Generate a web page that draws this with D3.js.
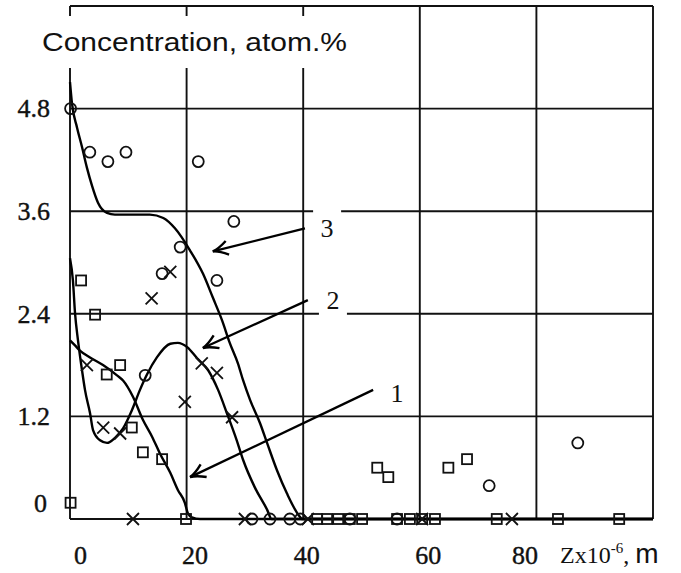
<!DOCTYPE html>
<html lang="en">
<head>
    <meta charset="UTF-8">
    <title>Concentration profiles</title>
    <script src="https://d3js.org/d3.v7.min.js"></script>
    <style>
        body { margin: 0; padding: 0; background: #fff; }
        .serif { font-family: "Liberation Serif", "Times New Roman", serif; }
        .sans { font-family: "Liberation Sans", Arial, sans-serif; }
        .grid line { stroke: #111; stroke-width: 1.9px; }
        .curve { fill: none; stroke: #000; stroke-width: 2.4px; }
        .mark { fill: none; stroke: #111; stroke-width: 1.8px; }
        .tick text { stroke: #111; stroke-width: 0.4px; }
    </style>
</head>
<body>
    <div id="chart"></div>

    <script>
        // axis ticks
        const xTicks = [0, 20, 40, 60, 80];
        const yTicks = [0, 1.2, 2.4, 3.6, 4.8];
        const xGrid = [0, 20, 40, 60, 80, 100];
        const yGrid = [1.2, 2.4, 3.6, 4.8, 6];

        // calculated curves [z, concentration]
        const curve1 = [[0, 2.09], [0.86, 2.03], [1.7, 1.97], [3.43, 1.89], [5.66, 1.8], [8.06, 1.68],
            [9.1, 1.62], [10.8, 1.43], [12.5, 1.16], [14.1, 0.96], [15.4, 0.77], [17.2, 0.54],
            [18.5, 0.34], [19.7, 0.19], [20.2, 0.07], [20.9, 0.02], [22.3, 0], [100, 0]];
        const curve2 = [[0, 3.05], [0.5, 2.79], [0.86, 2.41], [1.37, 2.09], [2.06, 1.74], [2.57, 1.51],
            [3.43, 1.24], [3.95, 1.04], [5.15, 0.92], [6.35, 0.89], [7.72, 0.95], [9.1, 1.06],
            [10.6, 1.27], [12.0, 1.51], [13.2, 1.69], [14.9, 1.89], [17.2, 2.05], [18.5, 2.06],
            [20.1, 2.01], [21.8, 1.88], [23.7, 1.74], [25.4, 1.51], [26.9, 1.24], [28.6, 0.92],
            [29.7, 0.69], [31.7, 0.37], [33.8, 0.11], [34.6, 0], [100, 0]];
        const curve3 = [[0, 5.11], [0.34, 4.86], [1.2, 4.58], [2.06, 4.35], [2.9, 4.11], [3.77, 3.9],
            [4.8, 3.7], [6.35, 3.58], [7.7, 3.56], [13.7, 3.56], [16.0, 3.52], [18.0, 3.4],
            [20.6, 3.14], [22.8, 2.87], [24.5, 2.59], [26.1, 2.32], [27.4, 2.06], [28.8, 1.82],
            [29.7, 1.62], [30.9, 1.39], [32.6, 1.12], [33.8, 0.89], [35.5, 0.57], [37.2, 0.3],
            [39.5, 0.02], [39.8, 0], [100, 0]];

        // measured points
        const circlePts = [[0.1, 4.8], [3.4, 4.29], [6.5, 4.18], [9.6, 4.29], [22.0, 4.18], [28.1, 3.48],
            [18.9, 3.18], [25.2, 2.79], [15.8, 2.87], [12.9, 1.68], [87.1, 0.89], [71.9, 0.39],
            [31.2, 0], [34.3, 0], [37.7, 0], [39.5, 0], [48.0, 0], [56.1, 0]];
        const squarePts = [[1.9, 2.79], [4.3, 2.39], [8.6, 1.8], [6.3, 1.69], [10.6, 1.07], [12.5, 0.78],
            [15.8, 0.7], [0.1, 0.19], [19.9, 0], [52.7, 0.6], [54.6, 0.49], [64.9, 0.6], [68.1, 0.7],
            [42.4, 0], [44.1, 0], [46.0, 0], [48.0, 0], [50.1, 0], [56.1, 0], [58.3, 0], [60.4, 0],
            [62.6, 0], [73.2, 0], [83.7, 0], [94.2, 0]];
        const crossPts = [[17.2, 2.89], [14.0, 2.58], [22.6, 1.82], [25.2, 1.71], [2.9, 1.8], [5.7, 1.07],
            [8.6, 1.0], [19.7, 1.37], [27.8, 1.19], [10.8, 0], [30.0, 0], [40.8, 0], [60.4, 0], [75.8, 0]];

        // curve labels and arrows
        const callouts = [
            { text: "1", at: [56.1, 1.48], from: [52.0, 1.51], to: [20.6, 0.49] },
            { text: "2", at: [45.1, 2.56], from: [40.8, 2.56], to: [22.8, 2.0] },
            { text: "3", at: [44.1, 3.40], from: [40.3, 3.40], to: [24.5, 3.13] }
        ];

        const width = 681, height = 573;
        const mLeft = 70, mRight = 653, mTop = 6, mBottom = 519;

        const svg = d3.select("#chart").append("svg")
            .attr("width", width)
            .attr("height", height)
            .style("display", "block");

        svg.append("rect").attr("width", width).attr("height", height).attr("fill", "#fff");

        const x = d3.scaleLinear().domain([0, 100]).range([mLeft, mRight]);
        const y = d3.scaleLinear().domain([0, 6]).range([mBottom, mTop]);

        // grid + frame
        const grid = svg.append("g").attr("class", "grid");
        grid.selectAll(".v").data(xGrid).enter().append("line")
            .attr("x1", d => x(d)).attr("x2", d => x(d))
            .attr("y1", y(0)).attr("y2", y(6));
        grid.selectAll(".h").data(yGrid).enter().append("line")
            .attr("x1", x(0)).attr("x2", x(100))
            .attr("y1", d => y(d)).attr("y2", d => y(d));
        grid.append("line")
            .attr("x1", x(0)).attr("x2", x(100))
            .attr("y1", y(0)).attr("y2", y(0));

        // white box behind the title (covers the grid)
        svg.append("rect")
            .attr("x", 25).attr("y", 16).attr("width", 327).attr("height", 52)
            .attr("fill", "#fff");
        svg.append("text")
            .attr("class", "sans")
            .attr("x", 42).attr("y", 51)
            .attr("font-size", 26)
            .attr("fill", "#111")
            .attr("textLength", 305)
            .attr("lengthAdjust", "spacingAndGlyphs")
            .text("Concentration, atom.%");

        // curves
        const line = d3.line()
            .x(d => x(d[0]))
            .y(d => y(d[1]))
            .curve(d3.curveMonotoneX);

        svg.selectAll(".curve").data([curve1, curve2, curve3]).enter().append("path")
            .attr("class", "curve")
            .attr("d", line);

        // markers
        const marks = svg.append("g");
        marks.selectAll("circle").data(circlePts).enter().append("circle")
            .attr("class", "mark")
            .attr("cx", d => x(d[0])).attr("cy", d => y(d[1]))
            .attr("r", 5.5);
        marks.selectAll("rect").data(squarePts).enter().append("rect")
            .attr("class", "mark")
            .attr("x", d => x(d[0]) - 5).attr("y", d => y(d[1]) - 5)
            .attr("width", 10).attr("height", 10);
        marks.selectAll("path").data(crossPts).enter().append("path")
            .attr("class", "mark")
            .attr("d", d => {
                const cx = x(d[0]), cy = y(d[1]);
                return `M${cx - 6},${cy - 6}L${cx + 6},${cy + 6}M${cx - 6},${cy + 6}L${cx + 6},${cy - 6}`;
            });

        // arrows
        svg.append("defs").append("marker")
            .attr("id", "head")
            .attr("markerUnits", "userSpaceOnUse")
            .attr("viewBox", "-18 -10 20 20")
            .attr("markerWidth", 20).attr("markerHeight", 20)
            .attr("refX", 0).attr("refY", 0)
            .attr("orient", "auto")
            .append("path")
            .attr("d", "M-15,-7 Q-6,-1 0,0 Q-6,1 -15,7")
            .attr("fill", "none")
            .attr("stroke", "#000")
            .attr("stroke-width", 2.4);

        const co = svg.append("g");
        co.selectAll("rect").data(callouts).enter().append("rect")
            .attr("x", d => x(d.at[0]) - 14).attr("y", d => y(d.at[1]) - 22)
            .attr("width", 28).attr("height", 42)
            .attr("fill", "#fff");
        co.selectAll("line").data(callouts).enter().append("line")
            .attr("x1", d => x(d.from[0])).attr("y1", d => y(d.from[1]))
            .attr("x2", d => x(d.to[0])).attr("y2", d => y(d.to[1]))
            .attr("stroke", "#000").attr("stroke-width", 2.3)
            .attr("marker-end", "url(#head)");
        co.selectAll("text").data(callouts).enter().append("text")
            .attr("class", "serif")
            .attr("x", d => x(d.at[0])).attr("y", d => y(d.at[1]))
            .attr("dy", "0.35em")
            .attr("text-anchor", "middle")
            .attr("font-size", 26)
            .attr("fill", "#111")
            .text(d => d.text);

        // y axis labels
        const yAxis = svg.append("g")
            .attr("transform", `translate(${mLeft},0)`)
            .call(d3.axisLeft(y).tickValues(yTicks).tickSize(0).tickPadding(20)
                .tickFormat(d => d === 0 ? "0" : d3.format(".1f")(d)));
        yAxis.select(".domain").remove();
        yAxis.selectAll("text")
            .attr("class", "serif")
            .attr("font-size", 26)
            .attr("fill", "#111")
            .attr("dx", d => d === 0 ? -3 : 0)
            .attr("y", d => d === 0 ? -16 : 0);

        // x axis labels
        const nudge = { 0: 10, 20: 8, 40: 3, 60: 8, 80: -12 };
        const xAxis = svg.append("g")
            .attr("transform", `translate(0,${mBottom})`)
            .call(d3.axisBottom(x).tickValues(xTicks).tickSize(0).tickPadding(27));
        xAxis.select(".domain").remove();
        xAxis.selectAll("text")
            .attr("class", "serif")
            .attr("font-size", 26)
            .attr("fill", "#111")
            .attr("dx", d => nudge[d]);

        // x axis title
        const xt = svg.append("text")
            .attr("x", 560).attr("y", 563)
            .attr("fill", "#111");
        xt.append("tspan").attr("class", "serif").attr("font-size", 24).text("Zx10");
        xt.append("tspan").attr("class", "serif").attr("font-size", 15).attr("dy", -10).text("-6");
        xt.append("tspan").attr("class", "serif").attr("font-size", 24).attr("dy", 10).text(", ");
        xt.append("tspan").attr("class", "sans").attr("font-size", 28).text("m");
    </script>
</body>
</html>
